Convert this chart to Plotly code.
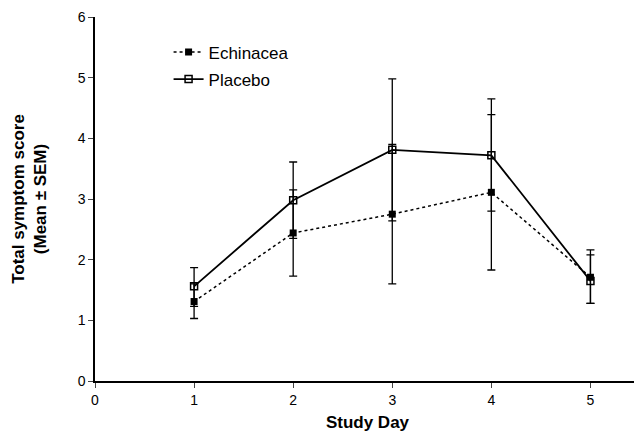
import plotly.graph_objects as go

days = [1, 2, 3, 4, 5]
echinacea_mean = [1.31, 2.44, 2.75, 3.11, 1.71]
echinacea_err_up = [0.29, 0.71, 1.15, 1.28, 0.37]
echinacea_err_down = [0.28, 0.71, 1.15, 1.28, 0.43]
placebo_mean = [1.56, 2.98, 3.81, 3.72, 1.65]
placebo_err_up = [0.31, 0.63, 1.17, 0.93, 0.51]
placebo_err_down = [0.33, 0.63, 1.17, 0.92, 0.37]

x_ticks = [0, 1, 2, 3, 4, 5]
y_ticks = [0, 1, 2, 3, 4, 5, 6]

FONT = "Liberation Sans, Arial, sans-serif"

fig = go.Figure()
fig.add_trace(go.Scatter(
    x=days, y=echinacea_mean, name="Echinacea", mode="lines+markers",
    legendgroup="e",
    line=dict(color="black", width=1.5, dash="dot"),
    marker=dict(symbol="square", size=7, color="black"),
    error_y=dict(type="data", symmetric=False, array=echinacea_err_up,
                 arrayminus=echinacea_err_down, color="black", thickness=1.3, width=4),
))
fig.add_trace(go.Scatter(
    x=days, y=placebo_mean, name="Placebo", mode="lines+markers",
    legendgroup="p",
    line=dict(color="black", width=1.8),
    marker=dict(symbol="square-open", size=7, color="black", line=dict(width=1.5)),
    error_y=dict(type="data", symmetric=False, array=placebo_err_up,
                 arrayminus=placebo_err_down, color="black", thickness=1.3, width=4),
))

# the page has an 8px body margin, so the figure is drawn 8px in from the top-left
fig.update_layout(
    width=634, height=424,
    margin=dict(l=87, r=2, t=9, b=51, autoexpand=False),
    paper_bgcolor="white", plot_bgcolor="white",
    font=dict(family=FONT, size=14, color="black"),
    showlegend=True,
    legend=dict(x=0.135, y=0.952, xanchor="left", yanchor="top",
                bgcolor="rgba(0,0,0,0)", font=dict(size=17),
                tracegroupgap=2, traceorder="grouped", itemwidth=30),
    xaxis=dict(range=[0, 5.5], tickvals=x_ticks, ticks="outside", ticklen=5,
               showline=True, linecolor="black", linewidth=1.5, showgrid=False,
               zeroline=False, tickfont=dict(size=14), automargin=False,
               title=dict(text="<b>Study Day</b>", font=dict(size=17), standoff=12)),
    yaxis=dict(range=[0, 6], tickvals=y_ticks, ticks="outside", ticklen=5,
               showline=True, linecolor="black", linewidth=1.5, showgrid=False,
               zeroline=False, tickfont=dict(size=14), automargin=False,
               title=dict(text="<b>Total symptom score<br>(Mean \u00b1 SEM)</b>",
                          font=dict(size=17), standoff=27)),
)

fig.write_html("out.html")
